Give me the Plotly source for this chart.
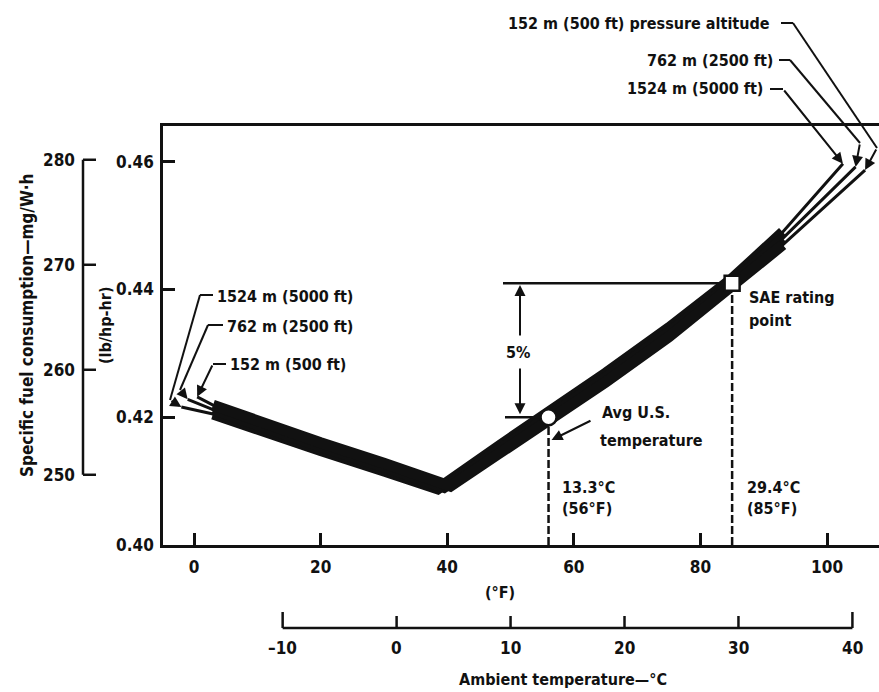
import plotly.graph_objects as go

W, H = 879, 692

# ---------------- data ----------------
temp_1524 = [-2, 3, 10, 20, 30, 38.5, 48, 56, 65, 75, 85, 93, 102.5]
sfc_1524 = [0.4216, 0.4205, 0.4180, 0.4148, 0.4116, 0.4088, 0.4154, 0.4207, 0.4269, 0.4340, 0.4417, 0.4490, 0.4597]
temp_762 = [-1, 3, 10, 20, 30, 39.5, 48, 56, 65, 75, 85, 93, 104.5]
sfc_762 = [0.4228, 0.4212, 0.4187, 0.4154, 0.4122, 0.4090, 0.4148, 0.4200, 0.4262, 0.4333, 0.4410, 0.4480, 0.4592]
temp_152 = [0.5, 3, 10, 20, 30, 40.5, 48, 56, 65, 75, 85, 93, 106]
sfc_152 = [0.4232, 0.4219, 0.4194, 0.4160, 0.4128, 0.4092, 0.4142, 0.4193, 0.4255, 0.4326, 0.4403, 0.4470, 0.4587]

avg_us_temp_F = 56
avg_us_sfc = 0.420
sae_temp_F = 85
sae_sfc = 0.441

f_ticks = [0, 20, 40, 60, 80, 100]
c_ticks = [-10, 0, 10, 20, 30, 40]
lb_ticks = [0.40, 0.42, 0.44, 0.46]
mg_ticks = [250, 260, 270, 280]
MG_PER_LB = 608.28  # 1 lb/hp-hr = 608.28 mg/W-h

# ---------------- geometry ----------------
X0, X1 = -4.9, 108.2
Y0, Y1 = 0.400, 0.4656
PL, PR, PT, PB = 163, 879, 126, 545

def X(t):
    return PL + (t - X0) / (X1 - X0) * (PR - PL)

def Y(v):
    return PB - (v - Y0) / (Y1 - Y0) * (PB - PT)

def px(p):
    return p / W

def py(p):
    return 1 - p / H

FONT = "DejaVu Sans Condensed, Liberation Sans Narrow, DejaVu Sans, sans-serif"
BLK = "#111111"

fig = go.Figure()

curves = [(temp_1524, sfc_1524), (temp_762, sfc_762), (temp_152, sfc_152)]
for t, s in curves:
    fig.add_trace(go.Scatter(x=t, y=s, mode="lines", line=dict(color=BLK, width=3),
                             showlegend=False, hoverinfo="skip"))
for t, s in curves:
    tt = [a for a in t if 3 <= a <= 93]
    ss = [b for a, b in zip(t, s) if 3 <= a <= 93]
    fig.add_trace(go.Scatter(x=tt, y=ss, mode="lines", line=dict(color=BLK, width=11),
                             showlegend=False, hoverinfo="skip"))

# reference points
fig.add_trace(go.Scatter(x=[avg_us_temp_F], y=[avg_us_sfc], mode="markers",
                         marker=dict(symbol="circle", size=16, color="white",
                                     line=dict(color=BLK, width=2.5)),
                         showlegend=False, hoverinfo="skip"))
fig.add_trace(go.Scatter(x=[sae_temp_F], y=[sae_sfc], mode="markers",
                         marker=dict(symbol="square", size=15, color="white",
                                     line=dict(color=BLK, width=2.5)),
                         showlegend=False, hoverinfo="skip"))

shapes = []
def seg(x0, y0, x1, y1, w=2, dash=None):
    d = dict(type="line", xref="paper", yref="paper", x0=px(x0), y0=py(y0),
             x1=px(x1), y1=py(y1), line=dict(color=BLK, width=w), layer="above")
    if dash:
        d["line"]["dash"] = dash
    shapes.append(d)

# dashed verticals
seg(X(avg_us_temp_F), PB, X(avg_us_temp_F), Y(avg_us_sfc) + 8, w=2.5, dash="8px,3px")
seg(X(sae_temp_F), PB, X(sae_temp_F), Y(sae_sfc) + 8, w=2.5, dash="8px,3px")
# 5% reference levels
seg(503, Y(sae_sfc), X(sae_temp_F) - 8, Y(sae_sfc), w=2.5)
seg(505, Y(avg_us_sfc), X(avg_us_temp_F) - 8, Y(avg_us_sfc), w=2.5)

# secondary (mg/W-h) axis line
seg(83, Y(mg_ticks[0] / MG_PER_LB), 83, Y(mg_ticks[-1] / MG_PER_LB), w=2.5)
for m in mg_ticks:
    seg(83, Y(m / MG_PER_LB), 96, Y(m / MG_PER_LB), w=2.5)
# Celsius axis line
CY = 628
cx = [X(c * 1.8 + 32) for c in c_ticks]
seg(cx[0], CY, cx[-1], CY, w=2.5)
for i, c in enumerate(cx):
    seg(c, CY, c, CY - (16 if i in (0, len(cx) - 1) else 12), w=2.5)

annotations = []
def txt(x, y, s, xa="left", ya="middle", size=16, angle=0):
    annotations.append(dict(x=px(x), y=py(y), xref="paper", yref="paper", text=s,
                            showarrow=False, xanchor=xa, yanchor=ya, textangle=angle,
                            font=dict(family=FONT, size=size, color=BLK, weight="bold")))

def arrow(tx, ty, hx, hy):
    annotations.append(dict(x=px(hx), y=py(hy), xref="paper", yref="paper", text="",
                            showarrow=True, axref="pixel", ayref="pixel",
                            ax=tx - hx, ay=ty - hy, arrowhead=2, arrowsize=1.1,
                            arrowwidth=2, arrowcolor=BLK, standoff=0))

# mg tick labels
for m in mg_ticks:
    txt(77, Y(m / MG_PER_LB), str(m), xa="right", size=17)
# Celsius tick labels
for c, x in zip(c_ticks, cx):
    txt(x, 648, str(c).replace("-", "\u2013"), xa="center", size=17)

txt(27, 325, "Specific fuel consumption\u2014mg/W\u00b7h", xa="center", size=17, angle=-90)
txt(105, 325, "(lb/hp-hr)", xa="center", size=16, angle=-90)
txt(500, 592, "(\u00b0F)", xa="center", size=16)
txt(457, 679, "Ambient temperature\u2014\u00b0C", xa="left", size=16)

# right-top altitude labels and leaders
txt(772, 23, "152 m (500 ft) pressure altitude", xa="right")
txt(775, 60, "762 m (2500 ft)", xa="right")
txt(765, 88, "1524 m (5000 ft)", xa="right")
seg(781, 23, 793, 23); seg(793, 23, 877, 148)
arrow(877, 148, X(temp_152[-1]), Y(sfc_152[-1]))
seg(779, 60, 790, 60); seg(790, 60, 860, 143)
arrow(860, 143, X(temp_762[-1]), Y(sfc_762[-1]))
seg(770, 89, 783, 89)
arrow(783, 89, X(temp_1524[-1]), Y(sfc_1524[-1]))

# left altitude labels and leaders
txt(215, 296, "1524 m (5000 ft)")
txt(225, 326, "762 m (2500 ft)")
txt(228, 364, "152 m (500 ft)")
seg(213, 295, 200, 295); seg(200, 295, 170, 400)
arrow(170, 400, X(temp_1524[0]), Y(sfc_1524[0]))
seg(223, 325, 208, 325); seg(208, 325, 180, 390)
arrow(180, 390, X(temp_762[0]), Y(sfc_762[0]))
seg(226, 364, 213, 364)
arrow(213, 364, X(temp_152[0]), Y(sfc_152[0]))

# 5% dimension
txt(518, 352, "5%", xa="center")
arrow(520, 337, 520, Y(sae_sfc) + 2)
arrow(520, 367, 520, Y(avg_us_sfc) - 3)

# point labels
txt(600, 412, "Avg U.S.")
txt(598, 440, "temperature")
arrow(592, 420, X(avg_us_temp_F) + 3, 440)
txt(560, 487, "13.3\u00b0C")
txt(560, 508, "(56\u00b0F)")
txt(X(sae_temp_F) + 13, 487, "29.4\u00b0C")
txt(X(sae_temp_F) + 13, 508, "(85\u00b0F)")
txt(X(sae_temp_F) + 15, 297, "SAE rating")
txt(X(sae_temp_F) + 15, 320, "point")

tickfont = dict(family=FONT, size=17, color=BLK, weight="bold")
fig.update_layout(
    width=W, height=H, autosize=False,
    margin=dict(l=0, r=0, t=0, b=0),
    paper_bgcolor="white", plot_bgcolor="white",
    showlegend=False,
    xaxis=dict(domain=[PL / W, PR / W], range=[X0, X1], tickvals=f_ticks,
               ticks="inside", ticklen=12, tickwidth=2.5, tickcolor=BLK,
               showline=True, linewidth=2.5, linecolor=BLK, mirror=True,
               showgrid=False, zeroline=False, tickfont=tickfont,
               ticklabelstandoff=5, automargin=False),
    yaxis=dict(domain=[1 - PB / H, 1 - PT / H], range=[Y0, Y1], tickvals=lb_ticks,
               tickformat=".2f", ticks="inside", ticklen=12, tickwidth=2.5, tickcolor=BLK,
               showline=True, linewidth=2.5, linecolor=BLK, showgrid=False,
               zeroline=False, tickfont=tickfont, ticklabelstandoff=3, automargin=False),
    shapes=shapes,
    annotations=annotations,
)

fig.write_html("out.html")
